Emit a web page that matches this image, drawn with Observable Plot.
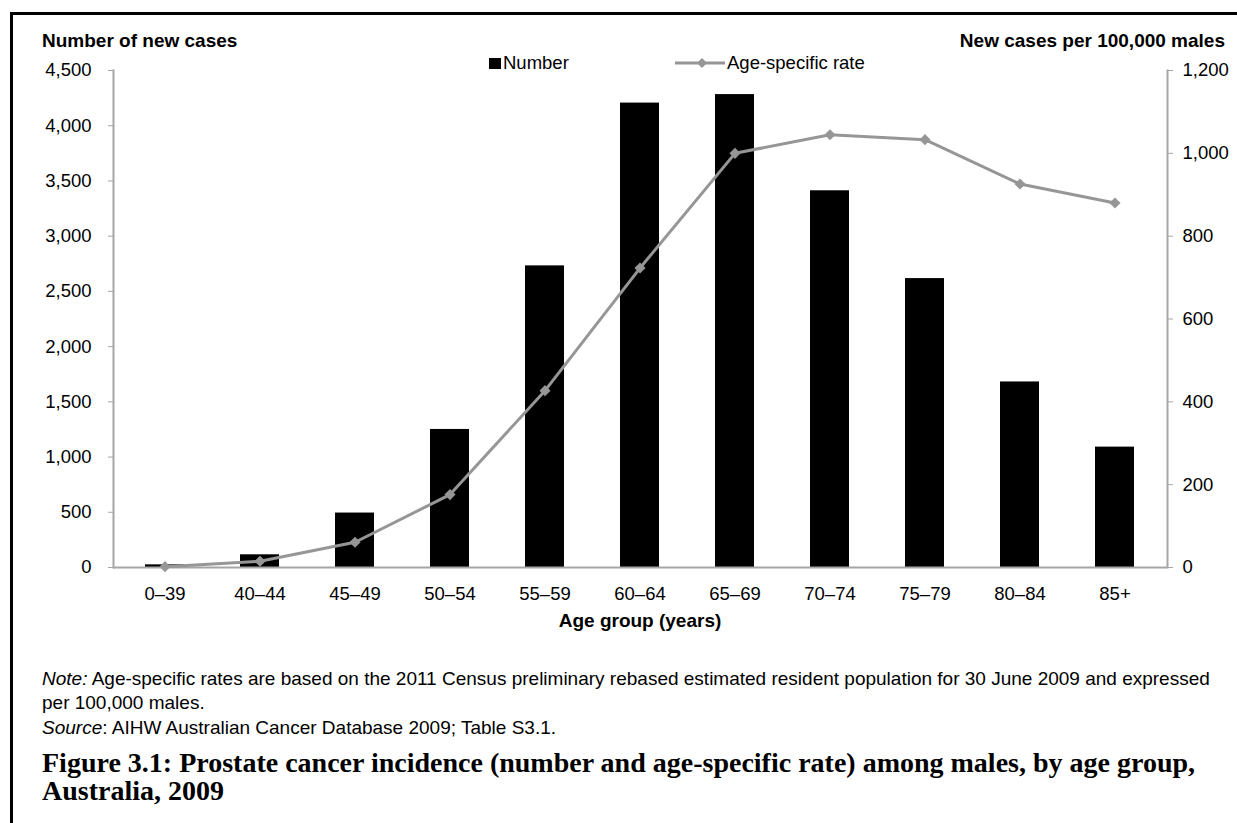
<!DOCTYPE html>
<html><head><meta charset="utf-8">
<script src="https://cdn.jsdelivr.net/npm/d3@7"></script>
<script src="https://cdn.jsdelivr.net/npm/@observablehq/plot@0.6"></script>
<style>
html,body{margin:0;padding:0;background:#fff;overflow:hidden;width:1237px;height:823px;}
body{position:relative;font-family:"Liberation Sans",Arial,sans-serif;color:#000;}
#frame{position:absolute;left:10px;top:12px;width:1400px;height:1000px;border-left:3px solid #000;border-top:3px solid #000;}
.abs{position:absolute;white-space:nowrap;line-height:1;}
.bold{font-weight:bold;font-size:19px;}
.tick{font-size:18.5px;}
.note{font-size:19px;left:42px;}
.title{font-family:"Liberation Serif","Times New Roman",serif;font-weight:bold;font-size:28px;left:42px;}
</style></head><body>
<div id="frame"></div>
<div id="chart" class="abs" style="left:0;top:0"></div>
<div class="abs bold" style="left:42px;top:31px">Number of new cases</div>
<div class="abs bold" style="right:12px;top:31px">New cases per 100,000 males</div>
<div class="abs" style="left:489px;top:58px;width:12px;height:11px;background:#000"></div>
<div class="abs tick" style="left:503px;top:54px">Number</div>
<svg class="abs" style="left:672px;top:55px" width="56" height="16"><line x1="3" x2="53" y1="8" y2="8" stroke="#969696" stroke-width="3"/><path d="M30,3L35,8L30,13L25,8Z" fill="#969696"/></svg>
<div class="abs tick" style="left:727px;top:54px">Age-specific rate</div>
<div class="abs bold" style="left:640px;top:611px;transform:translateX(-50%)">Age group (years)</div>
<div class="abs note" style="top:669px"><i>Note:</i> Age-specific rates are based on the 2011 Census preliminary rebased estimated resident population for 30 June 2009 and expressed</div>
<div class="abs note" style="top:693px">per 100,000 males.</div>
<div class="abs note" style="top:718px"><i>Source</i>: AIHW Australian Cancer Database 2009; Table S3.1.</div>
<div class="abs title" style="top:749px">Figure 3.1: Prostate cancer incidence (number and age-specific rate) among males, by age group,</div>
<div class="abs title" style="top:777px">Australia, 2009</div>
<script>
const ageGroups = ["0–39","40–44","45–49","50–54","55–59","60–64","65–69","70–74","75–79","80–84","85+"];
const newCases = [24,115,493,1250,2731,4205,4282,3411,2616,1680,1090];
const ratePer100k = [2,15,61,176,427,723,1000,1045,1033,926,880];
const leftTicks = [0,500,1000,1500,2000,2500,3000,3500,4000,4500];
const rightTicks = [0,200,400,600,800,1000,1200];
const leftMax = 4500, rightMax = 1200;
const k = leftMax / rightMax;
const data = ageGroups.map((a,i)=>({age:a, cases:newCases[i], rate:ratePer100k[i]}));
const fmt = d3.format(",");
const axisGray = "#a6a6a6", lineGray = "#969696";
const chart = Plot.plot({
  width:1237, height:605, marginLeft:113, marginRight:70, marginTop:70, marginBottom:38,
  style:{fontSize:"18.5px", fontFamily:"Liberation Sans, Arial, sans-serif", color:"#000", background:"transparent", overflow:"visible"},
  x:{domain:ageGroups, paddingInner:0.585, paddingOuter:0.2925, align:0.5},
  y:{domain:[0,leftMax], nice:false},
  marks:[
    Plot.barY(data,{x:"age", y:"cases", fill:"#000"}),
    Plot.frame({anchor:"left", stroke:axisGray, strokeWidth:2}),
    Plot.frame({anchor:"right", stroke:axisGray, strokeWidth:2}),
    Plot.ruleY([0],{stroke:axisGray, strokeWidth:2}),
    Plot.axisY(leftTicks,{anchor:"left", tickSize:5, tickPadding:17, tickFormat:fmt, stroke:axisGray, label:null}),
    Plot.axisY(rightTicks.map(v=>v*k),{anchor:"right", tickSize:5, tickPadding:10, tickFormat:d=>fmt(Math.round(d/k)), stroke:axisGray, label:null}),
    Plot.axisX({tickSize:0, tickPadding:19, label:null}),
    Plot.line(data,{x:"age", y:d=>d.rate*k, stroke:lineGray, strokeWidth:3}),
    Plot.dot(data,{x:"age", y:d=>d.rate*k, symbol:"diamond2", r:5, fill:lineGray, stroke:null})
  ]
});
document.getElementById("chart").appendChild(chart);
</script>
</body></html>
